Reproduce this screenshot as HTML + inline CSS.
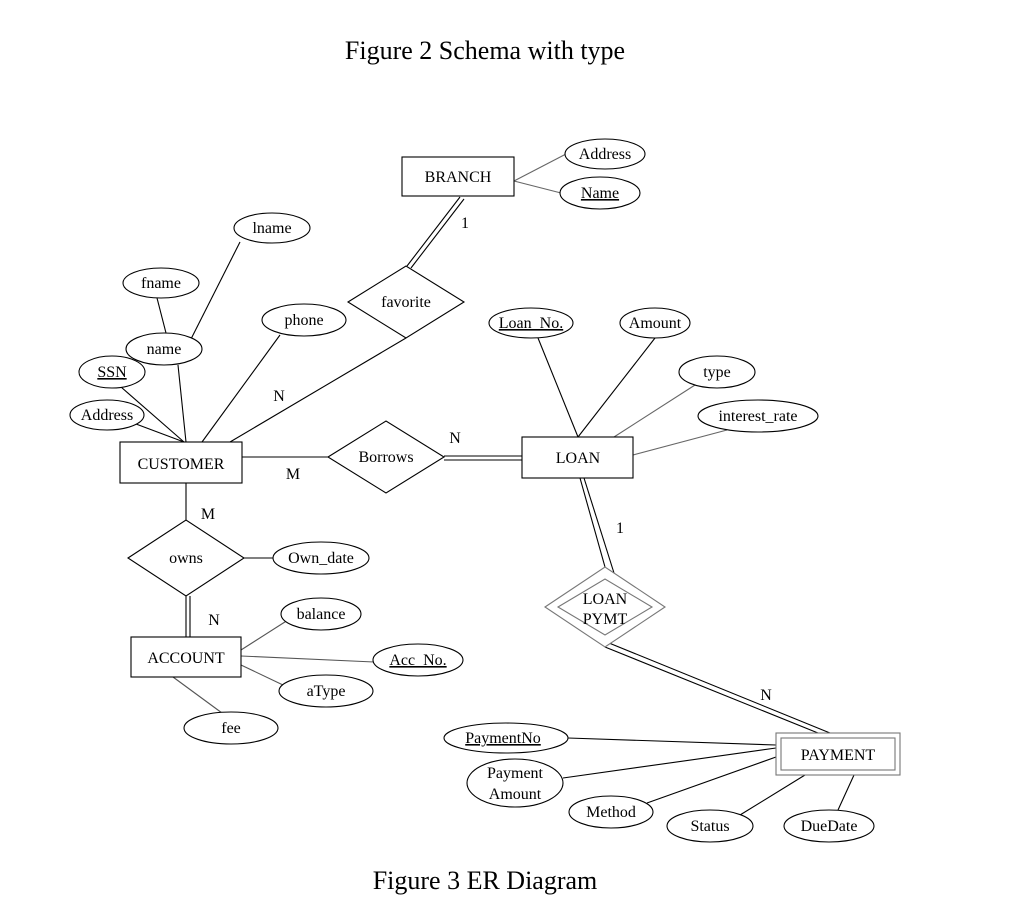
<!DOCTYPE html>
<html><head><meta charset="utf-8"><style>
body{margin:0;background:#fff}
svg{display:block}
text{font-family:"Liberation Serif",serif;fill:#000}
</style></head><body>
<svg width="1024" height="913" viewBox="0 0 1024 913" xmlns="http://www.w3.org/2000/svg">
<g font-size="26" text-anchor="middle">
<text x="485" y="59">Figure 2 Schema with type</text>
<text x="485" y="889">Figure 3 ER Diagram</text>
</g>
<g stroke="#000" stroke-width="1.1" fill="none">
<!-- BRANCH attrs -->
<line x1="514" y1="181" x2="566" y2="154" stroke="#666"/>
<line x1="514" y1="181" x2="561" y2="193" stroke="#666"/>
<!-- branch-favorite double -->
<line x1="407" y1="266" x2="460" y2="197"/>
<line x1="411" y1="268" x2="464" y2="199"/>
<!-- customer attrs -->
<line x1="240" y1="242" x2="191" y2="339" />
<line x1="157" y1="298" x2="166" y2="333"/>
<line x1="178" y1="365" x2="186" y2="442"/>
<line x1="121" y1="387" x2="184" y2="442"/>
<line x1="136" y1="424" x2="184" y2="442"/>
<line x1="280" y1="335" x2="202" y2="442"/>
<line x1="406" y1="338" x2="230" y2="442"/>
<!-- customer-borrows -->
<line x1="242" y1="457" x2="328" y2="457"/>
<!-- borrows-loan double -->
<line x1="444" y1="456" x2="522" y2="456"/>
<line x1="444" y1="460" x2="522" y2="460"/>
<!-- loan attrs -->
<line x1="538" y1="338" x2="578" y2="437"/>
<line x1="655" y1="338" x2="578" y2="437"/>
<line x1="695" y1="385" x2="614" y2="437" stroke="#666"/>
<line x1="727" y1="430" x2="633" y2="455" stroke="#666"/>
<!-- loan-loanpymt double -->
<line x1="580" y1="478" x2="605" y2="567"/>
<line x1="584" y1="478" x2="614" y2="573"/>
<!-- loanpymt-payment double -->
<line x1="605" y1="647" x2="818" y2="733"/>
<line x1="609" y1="643" x2="830" y2="733"/>
<!-- customer-owns -->
<line x1="186" y1="483" x2="186" y2="520"/>
<!-- owns-account double -->
<line x1="186" y1="596" x2="186" y2="637"/>
<line x1="190" y1="596" x2="190" y2="637"/>
<line x1="244" y1="558" x2="273" y2="558"/>
<!-- account attrs -->
<line x1="241" y1="650" x2="288" y2="620" stroke="#555"/>
<line x1="241" y1="656" x2="374" y2="662" stroke="#555"/>
<line x1="241" y1="665" x2="283" y2="685" stroke="#555"/>
<line x1="173" y1="677" x2="222" y2="713" stroke="#555"/>
<!-- payment attrs -->
<line x1="568" y1="738" x2="776" y2="745"/>
<line x1="563" y1="778" x2="776" y2="748"/>
<line x1="647" y1="803" x2="776" y2="757"/>
<line x1="740" y1="815" x2="805" y2="775"/>
<line x1="838" y1="810" x2="854" y2="775"/>
</g>
<g stroke="#000" stroke-width="1.1" fill="#fff">
<rect x="402" y="157" width="112" height="39"/>
<rect x="120" y="442" width="122" height="41"/>
<rect x="522" y="437" width="111" height="41"/>
<rect x="131" y="637" width="110" height="40"/>
<rect x="776" y="733" width="124" height="42" stroke="#777"/>
<rect x="781" y="738" width="114" height="32" stroke="#777"/>
<polygon points="348,302 406,266 464,302 406,338"/>
<polygon points="328,457 386,421 444,457 386,493"/>
<polygon points="128,558 186,520 244,558 186,596"/>
<polygon points="545,607 605,567 665,607 605,647" stroke="#777"/>
<polygon points="558,607 605,579 652,607 605,635" stroke="#777"/>
<ellipse cx="605" cy="154" rx="40" ry="15"/>
<ellipse cx="600" cy="193" rx="40" ry="16"/>
<ellipse cx="272" cy="228" rx="38" ry="15"/>
<ellipse cx="161" cy="283" rx="38" ry="15"/>
<ellipse cx="304" cy="320" rx="42" ry="16"/>
<ellipse cx="164" cy="349" rx="38" ry="16"/>
<ellipse cx="112" cy="372" rx="33" ry="16"/>
<ellipse cx="107" cy="415" rx="37" ry="15"/>
<ellipse cx="531" cy="323" rx="42" ry="15"/>
<ellipse cx="655" cy="323" rx="35" ry="15"/>
<ellipse cx="717" cy="372" rx="38" ry="16"/>
<ellipse cx="758" cy="416" rx="60" ry="16"/>
<ellipse cx="321" cy="558" rx="48" ry="16"/>
<ellipse cx="321" cy="614" rx="40" ry="16"/>
<ellipse cx="418" cy="660" rx="45" ry="16"/>
<ellipse cx="326" cy="691" rx="47" ry="16"/>
<ellipse cx="231" cy="728" rx="47" ry="16"/>
<ellipse cx="506" cy="738" rx="62" ry="15"/>
<ellipse cx="515" cy="783" rx="48" ry="24"/>
<ellipse cx="611" cy="812" rx="42" ry="16"/>
<ellipse cx="710" cy="826" rx="43" ry="16"/>
<ellipse cx="829" cy="826" rx="45" ry="16"/>
</g>
<g font-size="16" text-anchor="middle">
<text x="458" y="182">BRANCH</text>
<text x="181" y="469">CUSTOMER</text>
<text x="578" y="463">LOAN</text>
<text x="186" y="663">ACCOUNT</text>
<text x="838" y="760">PAYMENT</text>
<text x="406" y="307">favorite</text>
<text x="386" y="462">Borrows</text>
<text x="186" y="563">owns</text>
<text x="605" y="604">LOAN</text>
<text x="605" y="624">PYMT</text>
<text x="605" y="159">Address</text>
<text x="600" y="198" text-decoration="underline">Name</text>
<text x="272" y="233">lname</text>
<text x="161" y="288">fname</text>
<text x="304" y="325">phone</text>
<text x="164" y="354">name</text>
<text x="112" y="377" text-decoration="underline">SSN</text>
<text x="107" y="420">Address</text>
<text x="531" y="328" text-decoration="underline">Loan_No.</text>
<text x="655" y="328">Amount</text>
<text x="717" y="377">type</text>
<text x="758" y="421">interest_rate</text>
<text x="321" y="563">Own_date</text>
<text x="321" y="619">balance</text>
<text x="418" y="665" text-decoration="underline">Acc_No.</text>
<text x="326" y="696">aType</text>
<text x="231" y="733">fee</text>
<text x="503" y="743" text-decoration="underline">PaymentNo</text>
<text x="515" y="778">Payment</text>
<text x="515" y="799">Amount</text>
<text x="611" y="817">Method</text>
<text x="710" y="831">Status</text>
<text x="829" y="831">DueDate</text>
<text x="465" y="228">1</text>
<text x="279" y="401">N</text>
<text x="293" y="479">M</text>
<text x="455" y="443">N</text>
<text x="620" y="533">1</text>
<text x="208" y="519">M</text>
<text x="214" y="625">N</text>
<text x="766" y="700">N</text>
</g>
</svg>
</body></html>
